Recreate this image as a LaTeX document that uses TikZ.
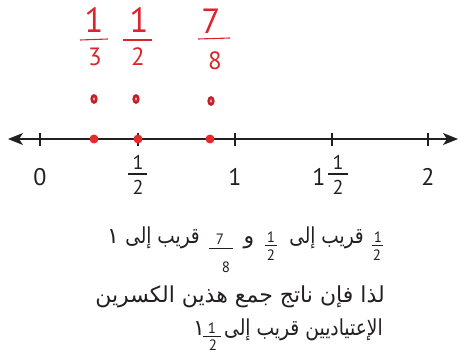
\documentclass[tikz,border=0pt]{standalone}
\usepackage{graphicx}
\usepackage{fontspec}
\setmainfont{PT Sans}
\newfontfamily\arabicfont[Script=Arabic]{DejaVu Sans}
\TeXXeTstate=1
\usetikzlibrary{arrows.meta}
\definecolor{ink}{HTML}{231F20}
\definecolor{hand}{HTML}{D9262E}
\definecolor{dotred}{HTML}{E8282B}
\tikzset{
  axis/.style={line width=1.4pt, draw=ink, {Stealth[length=15pt,width=12pt,inset=4pt]}-{Stealth[length=15pt,width=12pt,inset=4pt]}},
  tick/.style={line width=1.4pt, draw=ink},
  axlab/.style={text=ink, font=\fontsize{24}{26}\selectfont, inner sep=0pt},
  axfrac/.style={text=ink, font=\fontsize{20}{22}\selectfont, inner sep=0pt},
  fbar/.style={line width=1.2pt, draw=ink},
  hnum/.style={text=hand, font=\fontsize{35}{37}\selectfont, inner sep=0pt},
  hden/.style={text=hand, font=\fontsize{25}{27}\selectfont, inner sep=0pt},
  hbar/.style={line width=1.1pt, draw=hand},
  ovalmark/.style={draw=hand!90!black, line width=2.8pt, x radius=2.2pt, y radius=3.4pt},
  reddot/.style={fill=dotred, draw=none, circle, minimum size=9pt, inner sep=0pt},
  ar/.style={text=ink, font=\arabicfont\fontsize{22}{24}\selectfont, inner sep=0pt},
  tnum/.style={text=ink, font=\fontsize{15}{16}\selectfont, inner sep=0pt},
  tbar/.style={line width=0.9pt, draw=ink},
}
\begin{document}
\begin{tikzpicture}[x=1pt,y=-1pt]
\useasboundingbox (0,0) rectangle (460,353);
% number line
\coordinate (L) at (8,139);
\coordinate (R) at (458,139);
\draw[axis] (L) -- (R);
\foreach \x/\n in {40/t0,138/th,235/t1,332/t3h,428/t2}{
  \coordinate (\n) at (\x,139);
  \draw[tick] ([yshift=-6.5pt]\n) -- ([yshift=6.5pt]\n);
}
% axis labels
\node[axlab, anchor=base] (l0) at (40,185) {0};
\node[axfrac, anchor=base] (lhn) at (138,169) {1};
\draw[fbar] (128,174) -- (147,174);
\node[axfrac, anchor=base] (lhd) at (138,194) {2};
\node[axlab, anchor=base] (l1) at (235,185) {1};
\node[axlab, anchor=base] (l3w) at (319,185) {1};
\node[axfrac, anchor=base] (l3n) at (338,169) {1};
\draw[fbar] (328,174) -- (348,174);
\node[axfrac, anchor=base] (l3d) at (338,194) {2};
\node[axlab, anchor=base] (l2) at (428,185) {2};
% red dots on the line
\node[reddot] (d1) at (94,139) {};
\node[reddot] (d2) at (138,139) {};
\node[reddot] (d3) at (210,139) {};
% small red ovals
\draw[ovalmark] (94,99) ellipse [];
\draw[ovalmark] (136,99) ellipse [];
\draw[ovalmark] (211,101) ellipse [];
% red handwritten fractions
\node[hnum, anchor=base] (f1n) at (94,33) {1};
\draw[hbar] (80,40) -- (108,39);
\node[hden, anchor=base] (f1d) at (95,65) {3};
\node[hnum, anchor=base] (f2n) at (139,33) {1};
\draw[hbar] (123,40) -- (152,40);
\node[hden, anchor=base] (f2d) at (138,65) {2};
\node[hnum, anchor=base] (f3n) at (211,34) {7};
\draw[hbar] (198,39) -- (230,38);
\node[hden, anchor=base] (f3d) at (215,70) {8};
% text line 1
\node[tnum, anchor=base] (a1n) at (378,242) {1};
\draw[tbar] (372,245) -- (383,245);
\node[tnum, anchor=base] (a1d) at (377,260) {2};
\node[ar, anchor=base east] (a1t) at (364,243) {\scalebox{0.84}[1]{\beginR قريب إلى\endR}};
\node[tnum, anchor=base] (a2n) at (271,242) {1};
\draw[tbar] (265,245) -- (277,245);
\node[tnum, anchor=base] (a2d) at (271,260) {2};
\node[ar, anchor=base] (a3) at (249,243) {\beginR و\endR};
\node[tnum, anchor=base] (a4n) at (220,244) {7};
\draw[tbar] (209,248) -- (233,248);
\node[tnum, anchor=base] (a4d) at (226,272) {8};
\node[ar, anchor=base east] (a5t) at (200,243) {\scalebox{0.84}[1]{\beginR قريب إلى\endR}};
\node[ar, anchor=base] (a6) at (113,243) {\beginR ١\endR};
% text line 2
\node[ar, anchor=base east] (b1) at (385,302) {\beginR لذا فإن ناتج جمع هذين الكسرين\endR};
% text line 3
\node[ar, anchor=base east] (c1) at (383,335) {\scalebox{0.85}[1]{\beginR الإعتياديين قريب إلى\endR}};
\path (c1.base west) ++(-12,0) coordinate (c2);
\node[tnum, anchor=base] (c2n) at ([yshift=2pt]c2) {1};
\draw[tbar] ([xshift=-9pt,yshift=-1pt]c2) -- ([xshift=9pt,yshift=-1pt]c2);
\node[tnum, anchor=base] (c2d) at ([xshift=1pt,yshift=-15pt]c2) {2};
\node[ar, anchor=base] (c3) at ([xshift=-13pt]c2) {\beginR ١\endR};
\end{tikzpicture}
\end{document}
